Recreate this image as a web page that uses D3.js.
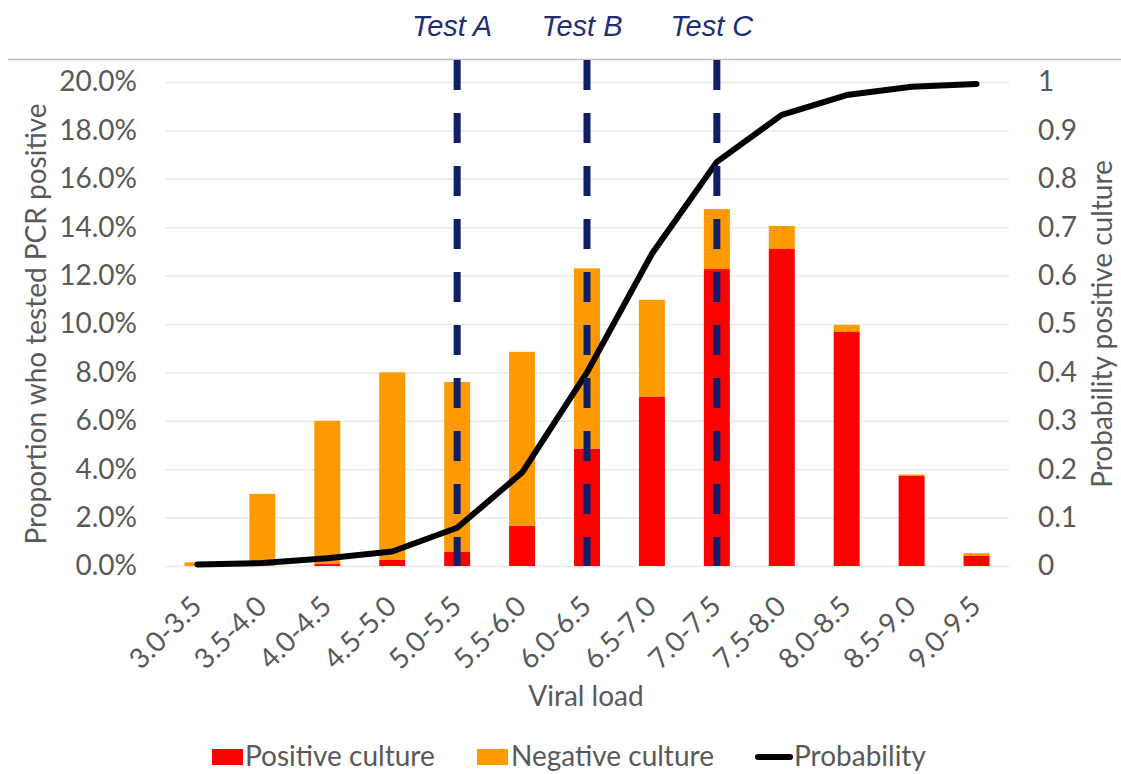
<!DOCTYPE html>
<html>
<head>
<meta charset="utf-8">
<script src="https://cdn.jsdelivr.net/npm/d3@7"></script>
<style>
  body { margin: 0; background: #fff; }
  svg { display: block; }
</style>
</head>
<body>
<div id="chart"></div>
<script>
// viral load bins
var categories = ['3.0-3.5', '3.5-4.0', '4.0-4.5', '4.5-5.0', '5.0-5.5', '5.5-6.0', '6.0-6.5',
  '6.5-7.0', '7.0-7.5', '7.5-8.0', '8.0-8.5', '8.5-9.0', '9.0-9.5'];

// proportion (%) of PCR positives, split by culture result
var positiveCulture = [0, 0, 0.08, 0.25, 0.58, 1.67, 4.85, 7.0, 12.27, 13.1, 9.67, 3.72, 0.43];
var negativeCulture = [0.15, 2.98, 5.92, 7.75, 7.02, 7.18, 7.45, 4.0, 2.48, 0.95, 0.29, 0.06, 0.1];

// probability of positive culture (right axis)
var probability = [0.003, 0.006, 0.016, 0.03, 0.079, 0.193, 0.4, 0.645, 0.835, 0.932, 0.973, 0.99, 0.996];

var leftTicks = [0, 2, 4, 6, 8, 10, 12, 14, 16, 18, 20];
var rightTicks = [0, 0.1, 0.2, 0.3, 0.4, 0.5, 0.6, 0.7, 0.8, 0.9, 1];

var tests = ['Test A', 'Test B', 'Test C'];
var testBins = ['5.0-5.5', '6.0-6.5', '7.0-7.5'];

var W = 1121, H = 774;
var plotL = 165, plotR = 1009, plotT = 82, plotB = 566;
var grey = '#595959', font = 'Lato, "Open Sans", sans-serif', fs = '28px';

var svg = d3.select('#chart').append('svg')
  .attr('width', W)
  .attr('height', H);

var x = d3.scaleBand().domain(categories).range([plotL, plotR]).paddingInner(0.6).paddingOuter(0.3);
var y = d3.scaleLinear().domain([0, 20]).range([plotB, plotT]);
var y2 = d3.scaleLinear().domain([0, 1]).range([plotB, plotT]);

// thin border line at the top
svg.append('line')
  .attr('x1', 8).attr('x2', W)
  .attr('y1', 59.5).attr('y2', 59.5)
  .style('stroke', '#bfbfbf').style('stroke-width', 1.5);

// gridlines
var grid = svg.append('g')
  .attr('transform', 'translate(' + plotL + ',0)')
  .call(d3.axisLeft(y).tickValues(leftTicks).tickSize(-(plotR - plotL)).tickFormat(''));
grid.select('.domain').remove();
grid.selectAll('line').style('stroke', '#e8e8e8').style('stroke-width', 1.5);

// left axis labels
var yAxis = svg.append('g')
  .attr('transform', 'translate(' + (plotL - 28) + ',0)')
  .call(d3.axisLeft(y).tickValues(leftTicks).tickSize(0).tickFormat(d => d.toFixed(1) + '%'));
yAxis.select('.domain').remove();
yAxis.selectAll('text').attr('x', 0).style('font-family', font).style('font-size', fs).style('fill', grey);

// right axis labels
var yAxis2 = svg.append('g')
  .attr('transform', 'translate(' + (plotR + 29) + ',0)')
  .call(d3.axisRight(y2).tickValues(rightTicks).tickSize(0).tickFormat(d => d3.format('')(d)));
yAxis2.select('.domain').remove();
yAxis2.selectAll('text').attr('x', 0).style('font-family', font).style('font-size', fs).style('fill', grey);

// x axis labels, rotated
var xAxis = svg.append('g')
  .attr('transform', 'translate(0,' + plotB + ')')
  .call(d3.axisBottom(x).tickSize(0));
xAxis.select('.domain').remove();
xAxis.selectAll('text')
  .attr('x', 0).attr('y', 0).attr('dy', 0)
  .attr('transform', 'translate(6,42) rotate(-45)')
  .style('text-anchor', 'end')
  .style('font-family', font).style('font-size', fs).style('fill', grey);

// stacked bars
var rows = categories.map(function(c, i) {
  return { cat: c, pos: positiveCulture[i], neg: negativeCulture[i] };
});
var stack = d3.stack().keys(['pos', 'neg'])(rows);
var colors = { pos: '#ff0000', neg: '#ff9900' };

svg.append('g').selectAll('g')
  .data(stack)
  .enter().append('g')
  .style('fill', d => colors[d.key])
  .selectAll('rect')
  .data(d => d)
  .enter().append('rect')
  .attr('x', d => x(d.data.cat))
  .attr('width', x.bandwidth())
  .attr('y', d => y(d[1]))
  .attr('height', d => y(d[0]) - y(d[1]));

// probability curve
var line = d3.line()
  .x((d, i) => x(categories[i]) + x.bandwidth() / 2)
  .y(d => y2(d));

svg.append('path')
  .datum(probability)
  .attr('d', line)
  .style('fill', 'none')
  .style('stroke', '#000')
  .style('stroke-width', 6)
  .style('stroke-linejoin', 'round')
  .style('stroke-linecap', 'round');

// test thresholds
testBins.forEach(function(b, i) {
  var cx = x(b) + x.bandwidth() / 2;
  svg.append('line')
    .attr('x1', cx).attr('x2', cx)
    .attr('y1', 60).attr('y2', plotB)
    .style('stroke', '#0e1f68')
    .style('stroke-width', 7)
    .style('stroke-dasharray', '30,23');
  svg.append('text')
    .attr('x', cx - 5).attr('y', 36)
    .attr('text-anchor', 'middle')
    .style('font-family', '"Liberation Sans", Arial, sans-serif')
    .style('font-style', 'italic')
    .style('font-size', '29px')
    .style('fill', '#1f2d75')
    .text(tests[i]);
});

// axis titles
svg.append('text')
  .attr('transform', 'translate(46,' + (plotT + plotB) / 2 + ') rotate(-90)')
  .attr('text-anchor', 'middle')
  .style('font-family', font).style('font-size', fs).style('fill', grey)
  .text('Proportion who tested PCR positive');

svg.append('text')
  .attr('transform', 'translate(1112,' + (plotT + plotB) / 2 + ') rotate(-90)')
  .attr('text-anchor', 'middle')
  .style('font-family', font).style('font-size', fs).style('fill', grey)
  .text('Probability positive culture');

svg.append('text')
  .attr('x', (plotL + plotR) / 2 - 1).attr('y', 706)
  .attr('text-anchor', 'middle')
  .style('font-family', font).style('font-size', fs).style('fill', grey)
  .text('Viral load');

// legend
var legend = svg.append('g');
legend.append('rect').attr('x', 212).attr('y', 749).attr('width', 31).attr('height', 16).style('fill', colors.pos);
legend.append('text').attr('x', 245).attr('y', 766).text('Positive culture');
legend.append('rect').attr('x', 477).attr('y', 749).attr('width', 31).attr('height', 16).style('fill', colors.neg);
legend.append('text').attr('x', 511).attr('y', 766).text('Negative culture');
legend.append('line').attr('x1', 758).attr('x2', 790).attr('y1', 757).attr('y2', 757)
  .style('stroke', '#000').style('stroke-width', 6).style('stroke-linecap', 'round');
legend.append('text').attr('x', 794).attr('y', 766).text('Probability');
legend.selectAll('text').style('font-family', font).style('font-size', fs).style('fill', grey);
</script>
</body>
</html>
